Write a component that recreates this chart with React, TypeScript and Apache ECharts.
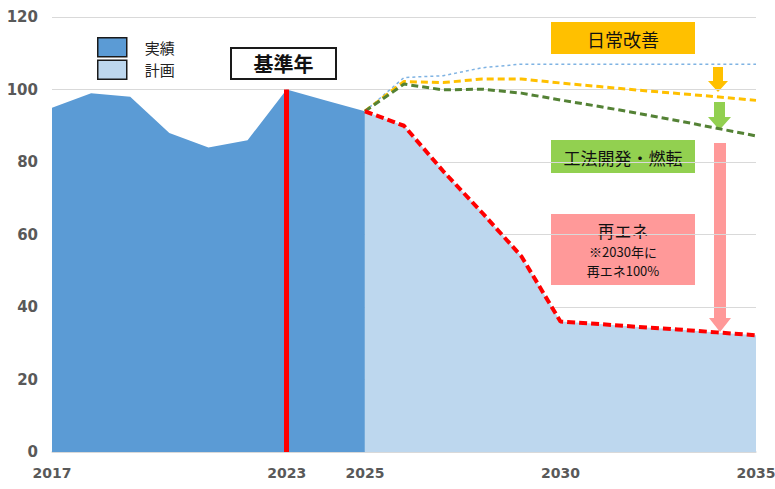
import React, { useEffect, useRef } from "react";
import * as echarts from "echarts";

const years = ["2017","2018","2019","2020","2021","2022","2023","2024","2025","2026","2027","2028","2029","2030","2031","2032","2033","2034","2035"];
const shownYears = ["2017", "2023", "2025", "2030", "2035"];
const actual = [95, 99, 98, 88, 84, 86, 100, 97, 94, null, null, null, null, null, null, null, null, null, null];
const plan = [null, null, null, null, null, null, null, null, 94, 90, 77.5, 66, 54, 36, 35.3, 34.5, 33.8, 33, 32.2];
const bau = [null, null, null, null, null, null, null, null, 94, 103.3, 103.8, 106, 107, 107, 107, 107, 107, 107, 107];
const dailyImprove = [null, null, null, null, null, null, null, null, 94, 102.2, 101.9, 102.9, 102.9, 101.8, 100.8, 99.8, 98.9, 98, 97];
const methodFuel = [null, null, null, null, null, null, null, null, 94, 101.5, 99.9, 100.1, 99, 97.1, 95.3, 93.4, 91.4, 89.3, 87.2];
const baseYear = "2023";
const baseYearValue = 100;

const JP = '"Noto Sans CJK JP", sans-serif';

export default function App() {
  const ref = useRef<HTMLDivElement>(null);
  useEffect(() => {
    if (!ref.current) return;
    const chart = echarts.init(ref.current, null, { renderer: "svg" });
    const dashedLine = (name: string, data: any[], color: string, width: number, dash: number[]) => ({
      name,
      type: "line",
      data,
      symbol: "none",
      connectNulls: false,
      lineStyle: { color, width, type: dash },
      z: 3,
    });
    const txt = (x: number, y: number, text: string, size: number, weight = "normal") => ({
      type: "text",
      x,
      y,
      style: {
        text,
        font: `${weight} ${size}px ${JP}`,
        lineHeight: size,
        fill: "#111",
        align: "center",
        verticalAlign: "middle",
      },
    });
    chart.setOption({
      animation: false,
      textStyle: { fontFamily: JP },
      grid: { left: 52, right: 19, top: 17, bottom: 37, containLabel: false, outerBoundsMode: "none" },
      legend: {
        orient: "vertical",
        left: 92,
        top: 32,
        itemWidth: 29,
        itemHeight: 19,
        itemGap: 2,
        selectedMode: false,
        textStyle: { fontSize: 15, lineHeight: 19, color: "#222", fontFamily: JP, padding: [0, 0, 0, 13] },
        data: [
          { name: "実績", icon: "rect", itemStyle: { color: "#5B9BD5", borderColor: "#1a1a1a", borderWidth: 1.5 } },
          { name: "計画", icon: "rect", itemStyle: { color: "#BDD7EE", borderColor: "#1a1a1a", borderWidth: 1.5 } },
        ],
      },
      xAxis: {
        type: "category",
        data: years,
        boundaryGap: false,
        axisLine: { lineStyle: { color: "#D9D9D9", width: 1.5 } },
        axisTick: { show: false },
        axisLabel: {
          interval: (i: number, v: string) => shownYears.indexOf(v) >= 0,
          color: "#595959",
          fontFamily: "DejaVu Sans",
          fontWeight: "bold",
          fontSize: 14,
          margin: 14,
        },
        splitLine: { show: false },
      },
      yAxis: {
        type: "value",
        min: 0,
        max: 120,
        interval: 20,
        axisLine: { show: false },
        axisTick: { show: false },
        axisLabel: {
          color: "#595959",
          fontFamily: "DejaVu Sans",
          fontWeight: "bold",
          fontSize: 15,
          margin: 14,
        },
        splitLine: { lineStyle: { color: "#D9D9D9", width: 1 } },
      },
      series: [
        {
          name: "実績",
          type: "line",
          data: actual,
          symbol: "none",
          lineStyle: { width: 0, color: "#5B9BD5" },
          itemStyle: { color: "#5B9BD5" },
          areaStyle: { color: "#5B9BD5", opacity: 1 },
          z: 1,
          markLine: {
            silent: true,
            symbol: "none",
            label: { show: false },
            lineStyle: { color: "#FF0000", width: 5, type: "solid" },
            data: [[{ coord: [baseYear, 0] }, { coord: [baseYear, baseYearValue] }]],
          },
        },
        {
          name: "計画",
          type: "line",
          data: plan,
          symbol: "none",
          itemStyle: { color: "#BDD7EE" },
          lineStyle: { width: 0, color: "#BDD7EE" },
          areaStyle: { color: "#BDD7EE", opacity: 1 },
          z: 1,
        },
        dashedLine("BAU", bau, "#7FB3E3", 1.5, [3, 3]),
        dashedLine("日常改善", dailyImprove, "#FFC000", 3, [7, 4]),
        dashedLine("工法開発・燃転", methodFuel, "#548235", 3, [7, 4]),
        dashedLine("再エネ", plan, "#FF0000", 4, [8, 4]),
      ],
      graphic: [
        {
          type: "group",
          children: [
            { type: "rect", shape: { x: 231, y: 48, width: 105, height: 31 }, style: { fill: "#fff", stroke: "#1a1a1a", lineWidth: 2 } },
            txt(283.5, 63.5, "基準年", 20, "bold"),
          ],
        },
        {
          type: "group",
          children: [
            { type: "rect", shape: { x: 551, y: 22, width: 144, height: 32 }, style: { fill: "#FFC000" } },
            txt(623, 38.5, "日常改善", 18),
            { type: "polygon", shape: { points: [[713, 67], [723, 67], [723, 81], [728, 81], [718, 92], [708, 81], [713, 81]] }, style: { fill: "#FFC000" } },
          ],
        },
        {
          type: "group",
          children: [
            { type: "polygon", shape: { points: [[714, 102], [725, 102], [725, 117], [731, 117], [719.5, 130], [708, 117], [714, 117]] }, style: { fill: "#92D050" } },
            { type: "rect", shape: { x: 551, y: 140, width: 144, height: 33 }, style: { fill: "#92D050" } },
            txt(623, 157, "工法開発・燃転", 17),
          ],
        },
        {
          type: "group",
          children: [
            { type: "polygon", shape: { points: [[714, 143], [726, 143], [726, 318], [731, 318], [720, 332], [709, 318], [714, 318]] }, style: { fill: "#FF9999" } },
            { type: "rect", shape: { x: 551, y: 214, width: 144, height: 71 }, style: { fill: "#FF9999" } },
            txt(623, 230, "再エネ", 17),
            txt(623, 251, "※2030年に", 13),
            txt(623, 270, "再エネ100%", 13),
          ],
        },
      ],
    });
    return () => chart.dispose();
  }, []);
  return <div ref={ref} style={{ width: 775, height: 489, position: "absolute", left: 0, top: 0 }} />;
}
